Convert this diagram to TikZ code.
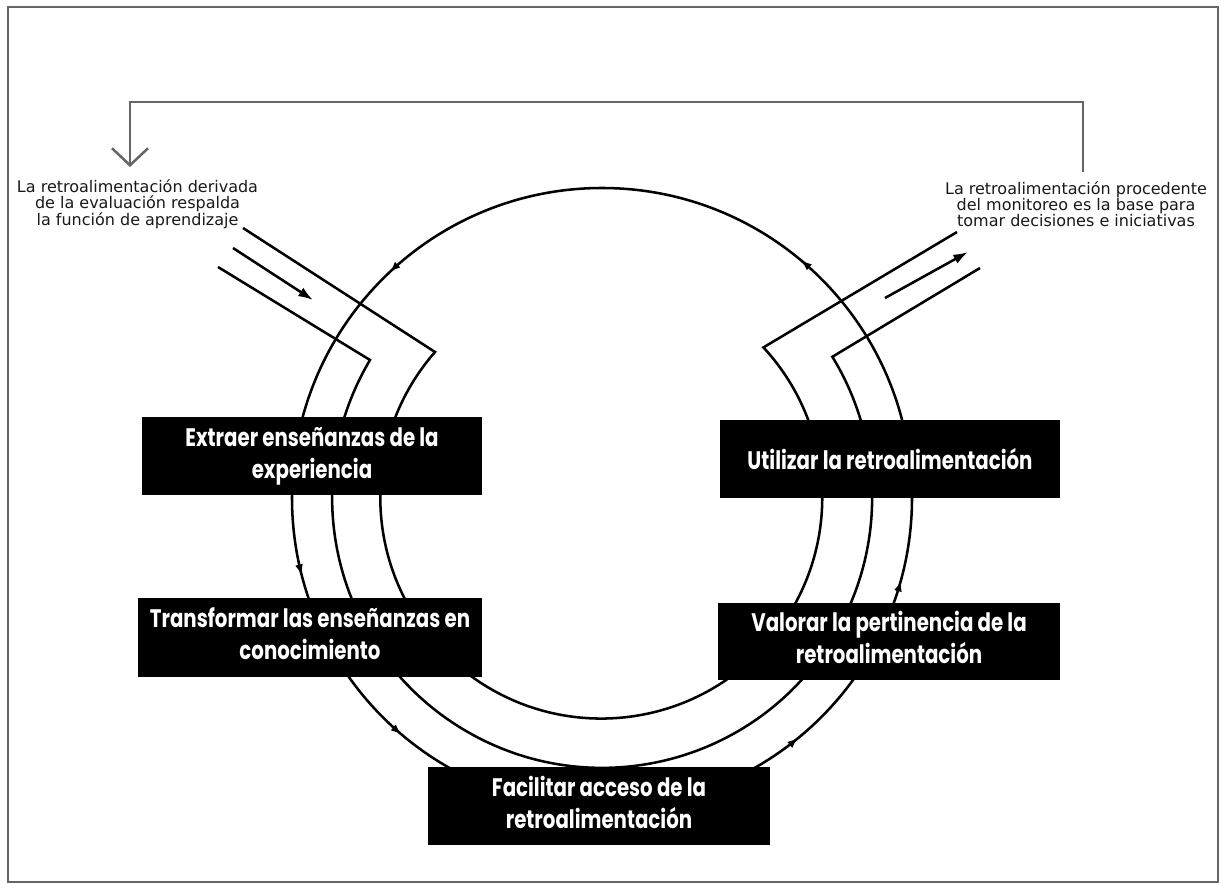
\documentclass[tikz,border=0pt]{standalone}
\usepackage{fontspec}
\setmainfont{DejaVu Sans}
\newfontfamily\boxfont{Poppins}
\usetikzlibrary{arrows.meta,decorations.markings}
\newcommand\twolines[2]{\scalebox{0.78}[1]{\begin{tabular}{@{}c@{}}#1\\#2\end{tabular}}}
\newcommand\oneline[1]{\scalebox{0.78}[1]{#1}}
\tikzset{
  ring/.style={line width=1.9pt, black},
  fb/.style={line width=1.9pt, black!60},
  frame/.style={line width=1.6pt, black!60},
  boxnode/.style={fill=black, text=white, inner sep=0pt, align=center,
    font=\boxfont\bfseries\fontsize{19}{24}\selectfont},
  note/.style={align=center, inner sep=0pt, text=black!90,
    font=\fontsize{12}{12}\selectfont},
  tip/.style={-{Latex[length=11pt,width=7.5pt]}},
  ringtip/.style={decoration={markings,
    mark=at position 0.12 with {\arrow{Latex[length=8pt,width=6pt]}},
    mark=at position 0.29 with {\arrow{Latex[length=8pt,width=6pt]}},
    mark=at position 0.388 with {\arrow{Latex[length=8pt,width=6pt]}},
    mark=at position 0.609 with {\arrow{Latex[length=8pt,width=6pt]}},
    mark=at position 0.707 with {\arrow{Latex[length=8pt,width=6pt]}},
    mark=at position 0.889 with {\arrow{Latex[length=8pt,width=6pt]}}},
    postaction={decorate}},
}
\begin{document}
\begin{tikzpicture}[x=0.75pt,y=-0.75pt]
\useasboundingbox (0,0) rectangle (1221,884);
\fill[white] (0,0) rectangle (1221,884);
\draw[frame] (8,7) rectangle (1218,882);

% centre of the rings
\coordinate (c) at (602,498);

% outer ring with arrows
\draw[ring, ringtip] (c) ++(270:310) arc[start angle=270, end angle=-90, radius=310];

% channel ends
\coordinate (iL) at (243,228);
\coordinate (iLc) at (435,352);
\coordinate (iRc) at (765,347);
\coordinate (iR) at (957,232);
\coordinate (mL) at (218,267);
\coordinate (mLc) at (370,360);
\coordinate (mRc) at (832,357);
\coordinate (mR) at (980,268);

% inner channel line
\draw[ring, line join=miter] (iL) -- (iLc) arc[start angle=221.2, end angle=-42.8, radius=221] -- (iR);
% middle channel line
\draw[ring, line join=miter] (mL) -- (mLc) arc[start angle=210.7, end angle=-31.5, radius=270] -- (mR);

% channel arrows
\coordinate (laS) at (233,248);
\coordinate (laE) at (313,300);
\coordinate (raS) at (885,298);
\coordinate (raE) at (968,252);
\draw[ring, tip] (laS) -- (laE);
\draw[ring, tip] (raS) -- (raE);

% boxes
\node[boxnode, minimum width=255pt, minimum height=58.5pt] (b1) at (312,456)
  {\twolines{Extraer enseñanzas de la}{experiencia}};
\node[boxnode, minimum width=258pt, minimum height=59.25pt] (b2) at (310,637.5)
  {\twolines{Transformar las enseñanzas en}{conocimiento}};
\node[boxnode, minimum width=255pt, minimum height=58.5pt] (b3) at (890,459)
  {\oneline{Utilizar la retroalimentación}};
\node[boxnode, minimum width=256.5pt, minimum height=57.75pt] (b4) at (889,641.5)
  {\twolines{Valorar la pertinencia de la}{retroalimentación}};
\node[boxnode, minimum width=256.5pt, minimum height=58.5pt] (b5) at (599,806)
  {\twolines{Facilitar acceso de la}{retroalimentación}};

% notes
\node[note] (nl) at (137.5,204)
  {La retroalimentación derivada\\de la evaluación respalda\\la función de aprendizaje};
\node[note] (nr) at (1076,204)
  {La retroalimentación procedente\\del monitoreo es la base para\\tomar decisiones e iniciativas};

% feedback connector
\coordinate (fbR) at (1083,172);
\coordinate (fbL) at (130,167);
\draw[fb, -{Straight Barb[length=12.75pt,width=27pt]}] (fbR) -- ++(0,-70) -| (fbL);
\end{tikzpicture}
\end{document}
